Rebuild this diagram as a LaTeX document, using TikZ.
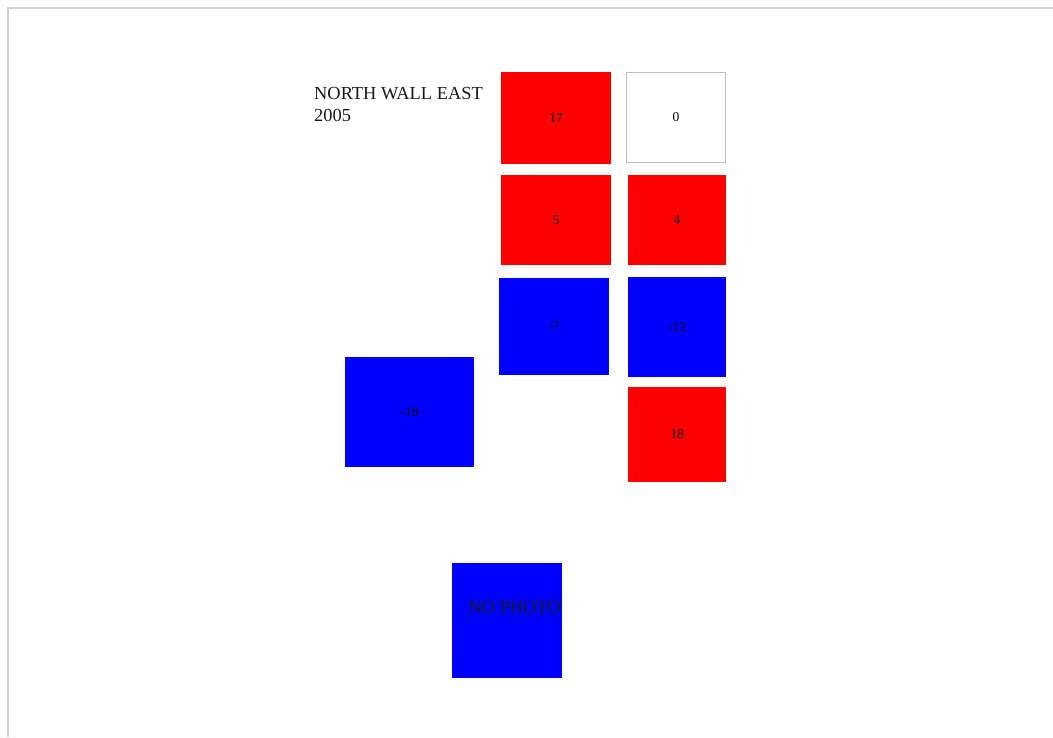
\documentclass[tikz,border=0pt]{standalone}
\usepackage{fontspec}
\setmainfont{Liberation Serif}
\begin{document}
\begin{tikzpicture}[x=1pt,y=-1pt,
  cell/.style={draw=none,inner sep=0pt,outer sep=0pt,font=\fontsize{13.5}{15}\selectfont,text=black},
  redcell/.style={cell,fill=red},
  bluecell/.style={cell,fill=blue},
  whitecell/.style={cell,fill=white,draw=black!25,line width=1pt}]
\useasboundingbox (0,0) rectangle (1053,737);
\fill[white] (0,0) rectangle (1053,737);
\coordinate (corner) at (8,8);
\coordinate (topend) at (1053,8);
\coordinate (leftend) at (8,737);
\draw[black!18,line width=2pt] (leftend) -- (corner) -- (topend);
\node[anchor=north west,inner sep=0pt,align=left,font=\fontsize{18.4}{21.5}\selectfont,text=black!90] (title) at (314,87.3) {NORTH WALL EAST\\2005};
% boxes: centre, width, height
\node[redcell,minimum width=110,minimum height=92] (b17) at (556,118) {17};
\node[whitecell,minimum width=99,minimum height=90] (b0) at (676,117.5) {0};
\node[redcell,minimum width=110,minimum height=90] (b5) at (556,220) {5};
\node[redcell,minimum width=98,minimum height=90] (b4) at (677,220) {4};
\node[bluecell,minimum width=110,minimum height=97] (bm7) at (554,326) {-7};
\node[bluecell,minimum width=98,minimum height=100] (bm12) at (677,327) {-12};
\node[redcell,minimum width=98,minimum height=95] (b18) at (677,434.5) {18};
\node[bluecell,minimum width=129,minimum height=110] (bm19) at (409.5,412) {-19};
\node[bluecell,minimum width=110,minimum height=115] (bnp) at (507,620.5) {};
\node[inner sep=0pt,font=\fontsize{18.4}{20}\selectfont,text=black!90] (nophoto) at (514.5,607) {NO PHOTO};
\end{tikzpicture}
\end{document}
